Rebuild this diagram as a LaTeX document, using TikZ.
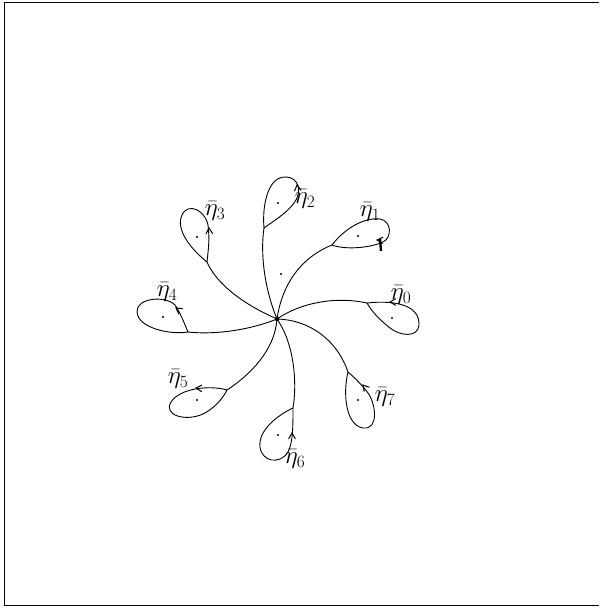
\documentclass[tikz,border=0pt]{standalone}
\begin{document}
\begin{tikzpicture}[x=1pt,y=-1pt,
  curve/.style={line width=0.9pt},
  lbl/.style={inner sep=0pt,font=\fontsize{23}{26}\selectfont},
  dotm/.style={fill,circle,inner sep=0pt,minimum size=2.4pt}]
\newcommand{\chev}[2]{\draw[line width=1pt,line cap=round,line join=miter] #1 ++(#2+150:6.5) -- #1 -- ++(#2-150:6.5);}
\useasboundingbox (0,0) rectangle (600,608);
% frame
\draw[line width=1pt] (599,2) -- (4,2) -- (4,605) -- (599,605);
% centre
\coordinate (C) at (277,319);
\fill (C) circle (2.2pt);
% tips
\coordinate (T0) at (367,303);
\coordinate (T1) at (332,245);
\coordinate (T2) at (264,228);
\coordinate (T3) at (207,262);
\coordinate (T4) at (188,332);
\coordinate (T5) at (227,390);
\coordinate (T6) at (293,408);
\coordinate (T7) at (348,372);
% stems
\draw[curve] (C) .. controls (300,303) and (335,296) .. (T0);
\draw[curve] (C) .. controls (282,285) and (300,258) .. (T1);
\draw[curve] (C) .. controls (265,290) and (260,255) .. (T2);
\draw[curve] (C) .. controls (245,305) and (217,285) .. (T3);
\draw[curve] (C) .. controls (250,330) and (215,335) .. (T4);
\draw[curve] (C) .. controls (275,350) and (250,375) .. (T5);
\draw[curve] (C) .. controls (295,345) and (297,385) .. (T6);
\draw[curve] (C) .. controls (310,320) and (337,340) .. (T7);
% loops
\draw[curve] (T0) .. controls (395,300) and (420,305) .. (419,325) .. controls (418,338) and (400,336) .. (390,328) .. controls (380,320) and (372,312) .. (T0);
\draw[curve] (T1) .. controls (345,228) and (365,217) .. (380,219) .. controls (392,221) and (392,238) .. (383,242) .. controls (370,248) and (345,250) .. (T1);
\draw[curve] (T2) .. controls (262,205) and (268,177) .. (285,177) .. controls (300,177) and (302,193) .. (294,203) .. controls (286,214) and (272,222) .. (T2);
\draw[curve] (T3) .. controls (192,250) and (175,230) .. (182,215) .. controls (188,202) and (205,210) .. (208,225) .. controls (210,240) and (208,252) .. (T3);
\draw[curve] (T4) .. controls (170,335) and (138,328) .. (137,312) .. controls (136,298) and (165,295) .. (175,305) .. controls (180,312) and (185,325) .. (T4);
\draw[curve] (T5) .. controls (210,385) and (180,388) .. (171,402) .. controls (163,415) and (185,422) .. (203,414) .. controls (215,408) and (223,398) .. (T5);
\draw[curve] (T6) .. controls (278,415) and (258,430) .. (260,447) .. controls (262,462) and (280,465) .. (288,452) .. controls (293,443) and (293,425) .. (T6);
\draw[curve] (T7) .. controls (343,392) and (345,425) .. (363,428) .. controls (380,430) and (375,402) .. (368,393) .. controls (362,385) and (355,378) .. (T7);
% arrowheads
\coordinate (A0) at (390,302);
\coordinate (A1) at (377,240);
\coordinate (A2) at (297,185);
\coordinate (A3) at (209,228);
\coordinate (A4) at (176,308);
\coordinate (A5) at (196,388);
\coordinate (A6) at (292,433);
\coordinate (A7) at (363,385);
\chev{(A0)}{180}
\chev{(A1)}{185}
\chev{(A2)}{262}
\chev{(A3)}{268}
\chev{(A4)}{215}
\chev{(A5)}{183}
\chev{(A6)}{270}
\chev{(A7)}{230}
\draw[line width=2.4pt] (A1) ++(3,-1) -- ++(1,12);
% dots
\node[dotm] (d0) at (392,318) {};
\node[dotm] (d1) at (358,236) {};
\node[dotm] (d2) at (278,203) {};
\node[dotm] (d3) at (197,237) {};
\node[dotm] (d4) at (163,317) {};
\node[dotm] (d5) at (197,400) {};
\node[dotm] (d6) at (278,435) {};
\node[dotm] (d7) at (358,400) {};
\node[dotm] (ds) at (281,274) {};
% labels
\node[lbl] (l0) at (401,295) {$\bar\eta_0$};
\node[lbl] (l1) at (370,212) {$\bar\eta_1$};
\node[lbl] (l2) at (305,199) {$\bar\eta_2$};
\node[lbl] (l3) at (215,211) {$\bar\eta_3$};
\node[lbl] (l4) at (167,292) {$\bar\eta_4$};
\node[lbl] (l5) at (178,379) {$\bar\eta_5$};
\node[lbl] (l6) at (295,459) {$\bar\eta_6$};
\node[lbl] (l7) at (385,397) {$\bar\eta_7$};
\end{tikzpicture}
\end{document}
